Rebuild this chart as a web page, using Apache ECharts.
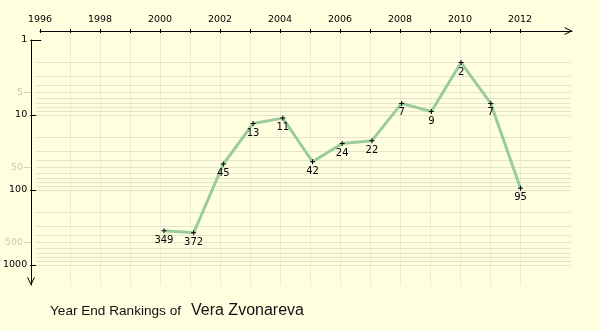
<!DOCTYPE html>
<html>
<head>
<meta charset="utf-8">
<script src="https://cdn.jsdelivr.net/npm/echarts@6/dist/echarts.min.js"></script>
<style>
  html, body { margin: 0; padding: 0; background: #ffffe0; }
  #chart { width: 600px; height: 330px; }
</style>
</head>
<body>
<div id="chart"></div>
<script>
// ---- data ----
var years = [2000, 2001, 2002, 2003, 2004, 2005, 2006, 2007, 2008, 2009, 2010, 2011, 2012];
var rankings = [349, 372, 45, 13, 11, 42, 24, 22, 7, 9, 2, 7, 95];
var gridValues = [2, 3, 4, 5, 6, 7, 8, 9, 10, 20, 30, 40, 50, 60, 70, 80, 90, 100, 200, 300, 400, 500, 600, 700, 800, 900, 1000];
var titlePrefix = 'Year End Rankings of';
var titleName = 'Vera Zvonareva';

var FONT = 'DejaVu Sans';
var chevron = 'path://M0,10L5,0L10,10L8.6,10L5,2.6L1.4,10Z';
var crossSym = 'path://M2,0H3V5H2ZM0,2H5V3H0Z';

var chart = echarts.init(document.getElementById('chart'), null, { renderer: 'canvas' });

function hiddenAxis(gi) {
  return { type: 'value', gridIndex: gi, show: false, min: 0, max: 1 };
}

var option = {
  backgroundColor: '#ffffe0',
  animation: false,
  title: {
    left: 45, top: 297,
    text: '{a|' + titlePrefix + '}  {b|' + titleName + '}',
    textStyle: {
      fontWeight: 'normal',
      rich: {
        a: { fontFamily: 'Liberation Sans', fontSize: 13.6, fontWeight: 'normal', color: '#111' },
        b: { fontFamily: 'Liberation Sans', fontSize: 16, fontWeight: 'normal', color: '#111' }
      }
    }
  },
  grid: [
    { left: 31, top: 40, width: 540, height: 225 },   // 0 main data
    { left: 31, top: 40, width: 100, height: 245 },   // 1 y arrow line
    { left: 40, top: 31, width: 532, height: 10 },    // 2 x arrow line
    { left: 40, top: 31, width: 480, height: 255 },   // 3 x ticks / labels / vertical grid
    { left: 31, top: 40 + 75 * Math.log10(5), width: 100, height: 150 } // 4 gray 5/50/500
  ],
  xAxis: [
    { type: 'value', gridIndex: 0, show: false, min: 1995.7, max: 2013.7 },
    hiddenAxis(1),
    {
      type: 'value', gridIndex: 2, position: 'top', min: 0, max: 1,
      axisLine: { show: true, onZero: false, symbol: ['none', chevron], symbolSize: [8, 9], symbolOffset: [0, -3.5],
        lineStyle: { color: '#000', width: 1 } },
      axisTick: { show: false }, axisLabel: { show: false }, splitLine: { show: false }
    },
    {
      type: 'value', gridIndex: 3, position: 'top', min: 1996, max: 2012, interval: 1,
      axisLine: { show: false, onZero: false },
      axisTick: { show: true, length: 2, lineStyle: { color: '#000' } },
      axisLabel: {
        show: true, margin: 6, color: '#000', fontFamily: FONT, fontSize: 9.5,
        formatter: function (v) { return (Math.round(v) % 2 === 0) ? String(Math.round(v)) : ''; }
      },
      splitLine: { show: true, showMinLine: false, lineStyle: { color: '#ebebd6', width: 1 } }
    },
    {
      type: 'value', gridIndex: 3, position: 'top', min: 1996, max: 2012, interval: 1,
      axisLine: { show: false, onZero: false },
      axisTick: { show: true, inside: true, length: 2, lineStyle: { color: '#000' } },
      axisLabel: { show: false }, splitLine: { show: false }
    },
    hiddenAxis(4)
  ],
  yAxis: [
    {
      type: 'log', logBase: 10, gridIndex: 0, position: 'left', inverse: true, min: 1, max: 1000, interval: 1,
      axisLine: { show: false, onZero: false },
      axisTick: { show: true, length: 6, lineStyle: { color: '#000' } },
      axisLabel: { show: true, margin: 9, color: '#000', fontFamily: FONT, fontSize: 9.5,
        formatter: function (v) { return String(Math.round(v)); } },
      splitLine: { show: false }
    },
    {
      type: 'log', logBase: 10, gridIndex: 0, position: 'left', inverse: true, min: 1, max: 1000, interval: 1,
      axisLine: { show: false, onZero: false },
      axisTick: { show: true, inside: true, length: 5, lineStyle: { color: '#000' } },
      axisLabel: { show: false }, splitLine: { show: false }
    },
    {
      type: 'value', gridIndex: 1, position: 'left', min: 0, max: 1,
      axisLine: { show: true, onZero: false, symbol: [chevron, 'none'], symbolSize: [8, 9], symbolOffset: [3.5, 0],
        lineStyle: { color: '#000', width: 1 } },
      axisTick: { show: false }, axisLabel: { show: false }, splitLine: { show: false }
    },
    hiddenAxis(2),
    hiddenAxis(3),
    {
      type: 'log', logBase: 10, gridIndex: 4, position: 'left', inverse: true, min: 5, max: 500, interval: 1,
      axisLine: { show: false, onZero: false },
      axisTick: { show: true, length: 7, lineStyle: { color: '#d2d2c0' } },
      axisLabel: { show: true, margin: 8, color: '#c8c8bc', fontFamily: FONT, fontSize: 9.5,
        formatter: function (v) { return String(Math.round(v)); } },
      splitLine: { show: false }
    }
  ],
  series: [
    {
      type: 'line', xAxisIndex: 0, yAxisIndex: 0, data: [], z: 1, silent: true,
      markLine: {
        silent: true, symbol: ['none', 'none'], label: { show: false }, animation: false,
        lineStyle: { color: '#e4e4cc', width: 1, type: 'solid' },
        data: gridValues.map(function (v) { return { yAxis: v }; })
      }
    },
    {
      type: 'line', xAxisIndex: 0, yAxisIndex: 0, z: 5,
      data: years.map(function (y, i) { return [y, rankings[i]]; }),
      symbol: crossSym, symbolSize: 5, showAllSymbol: true,
      itemStyle: { color: '#000' },
      lineStyle: { color: '#9bcb9b', width: 3 },
      label: { show: true, position: 'bottom', distance: 2, color: '#000', fontFamily: FONT, fontSize: 10 },
      emphasis: { disabled: true }
    }
  ]
};
chart.setOption(option);
</script>
</body>
</html>
